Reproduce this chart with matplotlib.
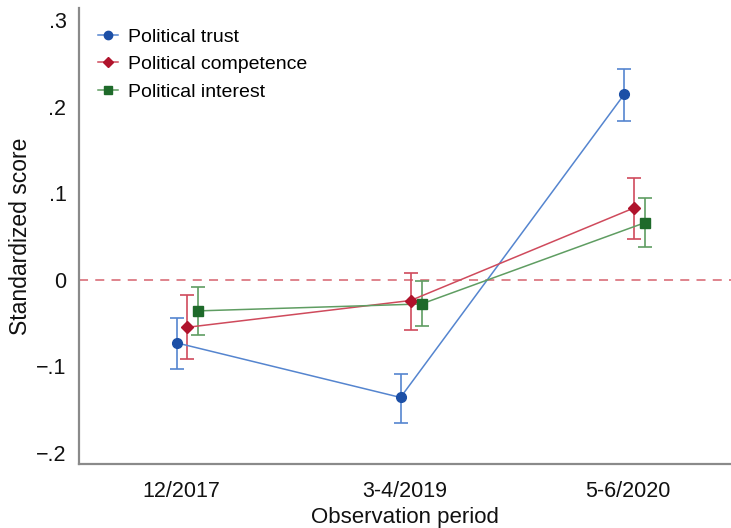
import matplotlib
matplotlib.use("Agg")
import matplotlib.pyplot as plt
import numpy as np

plt.rcParams['font.family'] = ['Liberation Sans', 'DejaVu Sans']

periods = ["12/2017", "3-4/2019", "5-6/2020"]
yticks = [-0.2, -0.1, 0.0, 0.1, 0.2, 0.3]
yticklabels = ["\u2212.2", "\u2212.1", "0", ".1", ".2", ".3"]

trust = [-0.073, -0.136, 0.214]
trust_lo = [-0.103, -0.165, 0.183]
trust_hi = [-0.044, -0.109, 0.244]

competence = [-0.055, -0.024, 0.083]
competence_lo = [-0.092, -0.058, 0.047]
competence_hi = [-0.018, 0.008, 0.118]

interest = [-0.036, -0.028, 0.066]
interest_lo = [-0.064, -0.054, 0.038]
interest_hi = [-0.008, -0.002, 0.094]

series = [
    ("Political trust", trust, trust_lo, trust_hi, -0.018, "o", "#1c4fa6", "#5585cf", 7),
    ("Political competence", competence, competence_lo, competence_hi, 0.027, "D", "#b0132c", "#cf4a5c", 6.5),
    ("Political interest", interest, interest_lo, interest_hi, 0.076, "s", "#1e6a2a", "#5f9d62", 6.5),
]

fig = plt.figure(figsize=(7.31, 5.28), dpi=100)
ax = fig.add_axes([0.108, 0.121, 0.892, 0.864])

x = np.arange(1, len(periods) + 1)
ax.axhline(0, color="#dc7a84", linestyle=(0, (5, 4)), linewidth=1.3, zorder=1)

handles = []
for name, vals, lo, hi, off, mk, mc, lc, ms in series:
    xs = x + off
    v = np.array(vals)
    err = np.vstack([v - np.array(lo), np.array(hi) - v])
    ax.errorbar(xs, v, yerr=err, fmt="none", ecolor=lc, elinewidth=1.2,
                capsize=5, capthick=1.2, zorder=2)
    ax.plot(xs, v, color=lc, linewidth=1.1, zorder=3)
    ax.plot(xs, v, linestyle="none", marker=mk, markersize=ms,
            color=mc, markeredgecolor=mc, zorder=4)
    lh = plt.Line2D([], [], color=lc, linewidth=1.1, marker=mk, markersize=ms - 1,
                    markerfacecolor=mc, markeredgecolor=mc)
    handles.append((lh, name))

ax.set_xlim(0.544, 3.46)
ax.set_ylim(-0.213, 0.314)
ax.set_xticks(x)
ax.set_xticklabels(periods, fontsize=15.5)
ax.set_yticks(yticks)
ax.set_yticklabels(yticklabels, fontsize=15.5)
ax.tick_params(axis="both", length=0, pad=9, colors="#111111")
ax.tick_params(axis="x", pad=12)

for s in ["top", "right"]:
    ax.spines[s].set_visible(False)
for s in ["left", "bottom"]:
    ax.spines[s].set_color("#8a8a8a")
    ax.spines[s].set_linewidth(1.6)

ax.set_xlabel("Observation period", fontsize=16, labelpad=3.5, color="#111111")
ax.set_ylabel("Standardized score", fontsize=16.5, labelpad=3, color="#111111")

leg = ax.legend([h for h, _ in handles], [n for _, n in handles],
                loc="upper left", bbox_to_anchor=(0.0, 0.998), frameon=False,
                fontsize=14, handlelength=1.0, handletextpad=0.5,
                labelspacing=0.5, borderaxespad=0.6)

fig.savefig("out.png", dpi=100)
